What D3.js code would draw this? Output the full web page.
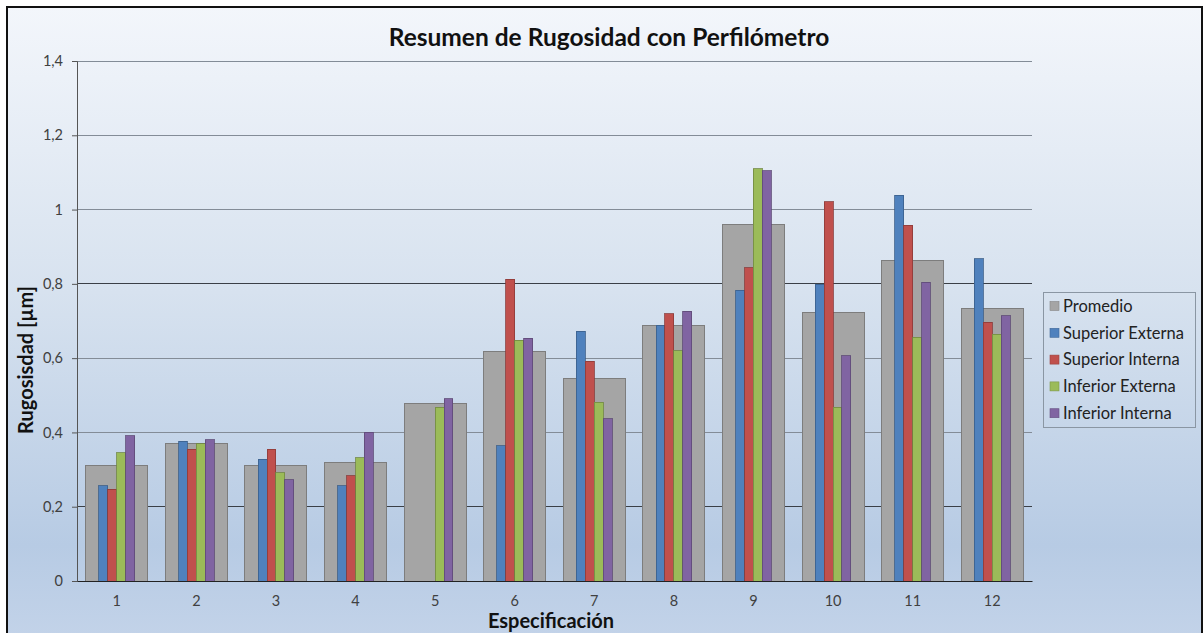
<!DOCTYPE html>
<html>
<head>
<meta charset="utf-8">
<script src="https://cdn.jsdelivr.net/npm/d3@7/dist/d3.min.js"></script>
<style>
  html, body { margin: 0; padding: 0; background: #ffffff; }
  svg { display: block; }
</style>
</head>
<body>
<svg id="chart" width="1204" height="633"></svg>
<script>
// ---- Data ----
const categories = ["1","2","3","4","5","6","7","8","9","10","11","12"];
const promedio        = [0.310, 0.369, 0.311, 0.320, 0.478, 0.619, 0.545, 0.688, 0.960, 0.723, 0.864, 0.734];
const superiorExterna = [0.257, 0.376, 0.328, 0.257, null,  0.364, 0.672, 0.689, 0.783, 0.799, 1.038, 0.867];
const superiorInterna = [0.247, 0.355, 0.355, 0.284, null,  0.813, 0.592, 0.719, 0.843, 1.021, 0.958, 0.696];
const inferiorExterna = [0.345, 0.369, 0.291, 0.332, 0.468, 0.648, 0.481, 0.620, 1.110, 0.468, 0.656, 0.664];
const inferiorInterna = [0.391, 0.380, 0.272, 0.401, 0.491, 0.653, 0.437, 0.726, 1.105, 0.606, 0.805, 0.714];
const yTicks = [0, 0.2, 0.4, 0.6, 0.8, 1, 1.2, 1.4];
const seriesNames = ["Superior Externa","Superior Interna","Inferior Externa","Inferior Interna"];
const seriesValues = [superiorExterna, superiorInterna, inferiorExterna, inferiorInterna];
const seriesColors = ["#4f81bd","#c0504d","#9bbb59","#8064a2"];
const promedioName = "Promedio";
const promedioColor = "#a5a5a5";
const title = "Resumen de Rugosidad con Perfilómetro";
const yTitle = "Rugosisdad [µm]";
const xTitle = "Especificación";

// ---- Layout ----
const W = 1204, H = 633;
const plot = { left: 77, right: 1032, top: 61, bottom: 581 };
const svg = d3.select("#chart");
const FONT = "Lato, 'Open Sans', 'DejaVu Sans', sans-serif";

const defs = svg.append("defs");
const grad = defs.append("linearGradient").attr("id","bg").attr("x1",0).attr("y1",0).attr("x2",0).attr("y2",1);
grad.append("stop").attr("offset","0%").attr("stop-color","#f3f6fb");
grad.append("stop").attr("offset","45%").attr("stop-color","#d7e2ef");
grad.append("stop").attr("offset","85%").attr("stop-color","#b7cbe4");
grad.append("stop").attr("offset","100%").attr("stop-color","#c3d3e9");

// Chart background + border
svg.append("rect").attr("x",7).attr("y",7).attr("width",W-9).attr("height",H)
  .attr("fill","url(#bg)").attr("stroke","#111").attr("stroke-width",2);

// Scales
const x0 = d3.scaleBand().domain(categories).range([plot.left, plot.right]).paddingInner(0).paddingOuter(0);
const x1 = d3.scaleBand().domain(seriesNames).range([0, x0.bandwidth()]).paddingInner(0).paddingOuter(2.47);
const y = d3.scaleLinear().domain([0, 1.4]).range([plot.bottom, plot.top]);

// Gridlines
svg.append("g").selectAll("line").data(yTicks.filter(d => d > 0)).join("line")
  .attr("x1", plot.left).attr("x2", plot.right)
  .attr("y1", d => y(d)).attr("y2", d => y(d))
  .attr("stroke", d => (Math.abs(d-0.8)<1e-9 || Math.abs(d-0.2)<1e-9) ? "#3a3f46" : "#838c97")
  .attr("stroke-width", 1).attr("shape-rendering","crispEdges");

// Promedio bars (wide, behind)
const gw = x0.bandwidth() * 0.78;
svg.append("g").selectAll("rect").data(categories).join("rect")
  .attr("x", (c) => x0(c) + (x0.bandwidth() - gw) / 2)
  .attr("width", gw)
  .attr("y", (c, i) => y(promedio[i]))
  .attr("height", (c, i) => y(0) - y(promedio[i]))
  .attr("fill", promedioColor)
  .attr("stroke", "#7d7d7d").attr("stroke-width", 1).attr("shape-rendering","crispEdges");

// Series bars
seriesNames.forEach((s, si) => {
  const vals = seriesValues[si];
  const col = seriesColors[si];
  svg.append("g").selectAll("rect")
    .data(categories.map((c, i) => ({ c, v: vals[i] })).filter(d => d.v != null))
    .join("rect")
    .attr("x", d => x0(d.c) + x1(s))
    .attr("width", x1.bandwidth())
    .attr("y", d => y(d.v))
    .attr("height", d => y(0) - y(d.v))
    .attr("fill", col)
    .attr("stroke", d3.color(col).darker(0.9)).attr("stroke-width", 0.8)
    .attr("shape-rendering","crispEdges");
});

// Axes
const yAxis = d3.axisLeft(y).tickValues(yTicks).tickSize(5)
  .tickFormat(d => d3.format("~g")(d).replace(".", ","));
const gy = svg.append("g").attr("transform", `translate(${plot.left},0)`).call(yAxis);
gy.select(".domain").attr("stroke", "#555").attr("stroke-width",1);
gy.selectAll(".tick line").attr("stroke", "#555");
gy.selectAll(".tick text").attr("x", -14).attr("fill", "#404040")
  .style("font-family", FONT).style("font-size", "14.5px");

const xAxis = d3.axisBottom(x0).tickSize(0).tickPadding(15);
const gx = svg.append("g").attr("transform", `translate(0,${plot.bottom})`).call(xAxis);
gx.select(".domain").attr("stroke", "#222").attr("stroke-width",1.2);
gx.selectAll(".tick text").attr("fill", "#404040")
  .style("font-family", FONT).style("font-size", "14.5px");

// Titles
svg.append("text").attr("x", 609).attr("y", 46).attr("text-anchor","middle")
  .style("font-family", FONT).style("font-weight","bold").style("font-size","24.5px")
  .attr("fill","#111").text(title);
svg.append("text").attr("transform","translate(33,360) rotate(-90)").attr("text-anchor","middle")
  .style("font-family", FONT).style("font-weight","bold").style("font-size","20px")
  .attr("fill","#111").text(yTitle);
svg.append("text").attr("x", 551).attr("y", 628).attr("text-anchor","middle")
  .style("font-family", FONT).style("font-weight","bold").style("font-size","20px")
  .attr("fill","#111").text(xTitle);

// Legend
const legendItems = [{ name: promedioName, color: promedioColor }]
  .concat(seriesNames.map((n, i) => ({ name: n, color: seriesColors[i] })));
const lg = svg.append("g");
lg.append("rect").attr("x",1043.5).attr("y",292.5).attr("width",152).attr("height",135)
  .attr("fill","none").attr("stroke","#8a96a3").attr("stroke-width",1);
const li = lg.selectAll("g").data(legendItems).join("g")
  .attr("transform", (d, i) => `translate(1050, ${306 + i * 26.8})`);
li.append("rect").attr("x",0).attr("y",-4.5).attr("width",9).attr("height",9)
  .attr("fill", d => d.color).attr("stroke", d => d3.color(d.color).darker(0.6)).attr("stroke-width",0.6);
li.append("text").attr("x",13).attr("y",0).attr("dy","0.35em")
  .style("font-family", FONT).style("font-size","16.5px").attr("fill","#222")
  .text(d => d.name);
</script>
</body>
</html>
